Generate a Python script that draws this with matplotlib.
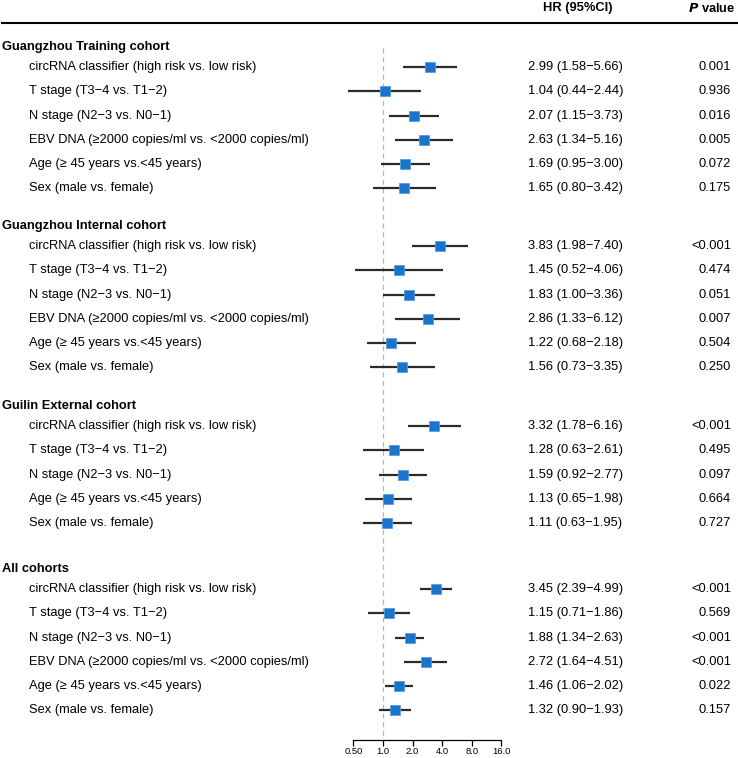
import matplotlib
matplotlib.use("Agg")
import matplotlib.pyplot as plt
import matplotlib.transforms as mtransforms

plt.rcParams["font.family"] = ["Liberation Sans", "DejaVu Sans"]

# --- data ---
cohorts = [
    "Guangzhou Training cohort",
    "Guangzhou Internal cohort",
    "Guilin External cohort",
    "All cohorts",
]
variables_full = [
    "circRNA classifier (high risk vs. low risk)",
    "T stage (T3\u22124 vs. T1\u22122)",
    "N stage (N2\u22123 vs. N0\u22121)",
    "EBV DNA (\u22652000 copies/ml vs. <2000 copies/ml)",
    "Age (\u2265 45 years vs.<45 years)",
    "Sex (male vs. female)",
]
variables_guilin = [v for v in variables_full if not v.startswith("EBV")]

training_hr = [2.99, 1.04, 2.07, 2.63, 1.69, 1.65]
training_lo = [1.58, 0.44, 1.15, 1.34, 0.95, 0.80]
training_hi = [5.66, 2.44, 3.73, 5.16, 3.00, 3.42]
training_p = ["0.001", "0.936", "0.016", "0.005", "0.072", "0.175"]

internal_hr = [3.83, 1.45, 1.83, 2.86, 1.22, 1.56]
internal_lo = [1.98, 0.52, 1.00, 1.33, 0.68, 0.73]
internal_hi = [7.40, 4.06, 3.36, 6.12, 2.18, 3.35]
internal_p = ["<0.001", "0.474", "0.051", "0.007", "0.504", "0.250"]

guilin_hr = [3.32, 1.28, 1.59, 1.13, 1.11]
guilin_lo = [1.78, 0.63, 0.92, 0.65, 0.63]
guilin_hi = [6.16, 2.61, 2.77, 1.98, 1.95]
guilin_p = ["<0.001", "0.495", "0.097", "0.664", "0.727"]

all_hr = [3.45, 1.15, 1.88, 2.72, 1.46, 1.32]
all_lo = [2.39, 0.71, 1.34, 1.64, 1.06, 0.90]
all_hi = [4.99, 1.86, 2.63, 4.51, 2.02, 1.93]
all_p = ["<0.001", "0.569", "<0.001", "<0.001", "0.022", "0.157"]

tick_values = [0.5, 1, 2, 4, 8, 16]
tick_labels = ["0.50", "1.0", "2.0", "4.0", "8.0", "16.0"]

groups = [
    (cohorts[0], variables_full, training_hr, training_lo, training_hi, training_p),
    (cohorts[1], variables_full, internal_hr, internal_lo, internal_hi, internal_p),
    (cohorts[2], variables_guilin, guilin_hr, guilin_lo, guilin_hi, guilin_p),
    (cohorts[3], variables_full, all_hr, all_lo, all_hi, all_p),
]

# --- layout (pixel units, figure is 738 x 758) ---
W, H = 738, 758
header_y = [47, 226, 406, 569]
first_offset = 20
row_step = 24.3
axis_y = 740
plot_x0, plot_x1 = 330, 530

fig = plt.figure(figsize=(W / 100, H / 100), dpi=100)
ax = fig.add_axes([plot_x0 / W, (H - axis_y) / H, (plot_x1 - plot_x0) / W, (axis_y - 30) / H])
ax.set_xscale("log", base=2)
# 1.0 sits at x=383 px, ~29.6 px per doubling
px_per_oct = 29.6
ax.set_xlim(2 ** ((plot_x0 - 383) / px_per_oct), 2 ** ((plot_x1 - 383) / px_per_oct))
ax.set_ylim(axis_y, 30)

trans = mtransforms.blended_transform_factory(fig.transFigure, ax.transData)
fs = 9.3
blue = "#1874CD"

for (name, labels, hr, lo, hi, pv), hy in zip(groups, header_y):
    ax.text(2 / W, hy, name, transform=trans, fontsize=fs, fontweight="bold",
            va="center", ha="left")
    for i, lab in enumerate(labels):
        y = hy + first_offset + i * row_step
        ax.text(29 / W, y, lab, transform=trans, fontsize=fs, va="center", ha="left")
        ax.plot([lo[i], hi[i]], [y, y], color="#2b2b2b", lw=1.6, solid_capstyle="butt", zorder=2)
        ax.plot(hr[i], y, marker="s", ms=6.5, color=blue, mec="#5a9be0", mew=0.6, zorder=3)
        ax.text(528 / W, y, f"{hr[i]:.2f} ({lo[i]:.2f}\u2212{hi[i]:.2f})", transform=trans,
                fontsize=fs, va="center", ha="left")
        ax.text(731 / W, y, pv[i], transform=trans, fontsize=fs, va="center", ha="right")

ax.vlines(1, 48, axis_y, colors="#b5b5b5", linestyles=(0, (4, 3)), lw=0.9, zorder=1)

# column headers and rule
fig.text(578 / W, 1 - 8 / H, "HR (95%CI)", fontsize=fs, fontweight="bold", ha="center", va="center")
fig.text(736 / W, 1 - 8 / H, r"$\bfit{P}$ value", fontsize=fs, fontweight="bold", ha="right", va="center")
fig.add_artist(plt.Line2D([2 / W, 1], [1 - 22.5 / H, 1 - 22.5 / H], color="black", lw=1.5,
                          transform=fig.transFigure))

for s in ["top", "right", "left"]:
    ax.spines[s].set_visible(False)
ax.spines["bottom"].set_bounds(tick_values[0], tick_values[-1])
ax.spines["bottom"].set_linewidth(0.9)
ax.set_yticks([])
ax.set_xticks(tick_values)
ax.set_xticklabels(tick_labels)
ax.minorticks_off()
ax.tick_params(axis="x", labelsize=6.8, length=4, width=0.9, pad=1)
ax.patch.set_alpha(0)

fig.savefig("out.png", dpi=100)
